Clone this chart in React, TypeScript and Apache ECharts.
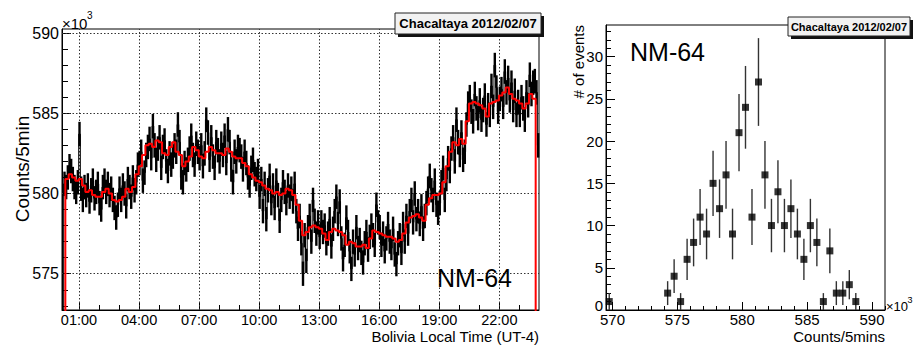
import React, { useEffect, useRef } from "react";
import * as echarts from "echarts";

const FONT = "'Liberation Sans', Arial, Helvetica, sans-serif";

// ---------- Left panel: 5-min counts (x10^3) ----------
const timeStartH = 0.15; // first bin start (hours, local time)
const binH = 1 / 12; // 5 minutes
const timeEndH = 23.983;

const counts00to06 = [
  569.8, 580.6, 580.4, 581.0, 581.7, 581.4, 580.9, 580.4, 580.1, 580.7,
  583.7, 580.3, 579.6, 580.4, 579.9, 580.5, 579.5, 580.2, 580.8, 579.7, 580.1, 580.6,
  579.4, 579.0, 580.4, 580.8, 580.1, 580.6, 579.9, 580.3, 579.6, 579.1, 578.5, 579.3,
  580.3, 579.6, 580.5, 580.0, 579.2, 580.9, 580.4, 579.8, 581.0, 580.2, 580.7, 581.8,
  581.9, 582.6, 580.8, 581.3, 582.4, 582.9, 583.4, 582.2, 584.2, 583.0, 582.1, 582.8,
  583.5, 581.6, 582.9, 583.3, 582.0, 581.4, 582.5, 581.8, 582.3, 583.0, 582.6, 584.3,
];
const counts06to12 = [
  583.2, 581.0, 580.7, 581.9, 581.5, 582.1, 582.8, 583.6, 582.4, 581.8, 583.1, 582.6,
  582.2, 583.0, 581.7, 582.5, 584.6, 583.8, 582.1, 583.5, 582.3, 581.6, 583.2, 582.7,
  582.0, 583.1, 582.4, 583.6, 581.9, 584.0, 583.2, 581.5, 580.7, 582.6, 582.0, 582.9,
  582.7, 582.3, 581.5, 582.6, 581.9, 581.0, 580.5, 581.6, 582.1, 581.2, 580.9, 581.4,
  579.8, 580.9, 578.9, 580.6, 578.4, 580.2, 581.1, 579.4, 580.5, 579.1, 580.8, 579.9,
  578.3, 579.6, 580.7, 580.1, 579.4, 580.5, 579.8, 580.3, 579.5, 580.6, 578.9, 577.8,
];
const counts12to18 = [
  578.6, 576.9, 575.0, 577.4, 575.8, 577.9, 578.6, 577.0, 579.6, 578.3, 577.5, 578.2,
  577.3, 578.2, 577.6, 578.0, 576.9, 577.5, 578.4, 576.7, 577.8, 578.9, 579.8, 578.1,
  579.5, 577.2, 575.9, 576.8, 578.5, 577.6, 576.4, 575.3, 577.0, 576.2, 577.9, 576.6,
  577.1, 576.3, 575.7, 576.9, 577.6, 576.5, 577.3, 578.0, 577.4, 576.8, 579.3, 578.2,
  577.9, 576.8, 577.5, 576.4, 577.2, 578.1, 577.0, 576.6, 577.8, 576.2, 575.6, 576.9,
  577.4, 576.3, 578.1, 577.0, 578.6, 577.5, 578.9, 579.6, 578.2, 580.0, 578.4, 578.9,
];
const counts18to24 = [
  578.1, 579.2, 577.8, 578.6, 579.4, 580.3, 581.1, 580.2, 579.6, 580.8, 579.3, 578.8,
  579.4, 580.7, 581.6, 579.6, 580.9, 582.2, 581.4, 582.8, 583.5, 582.0, 584.6, 583.2,
  582.4, 583.8, 582.1, 582.6, 584.3, 585.6, 586.0, 585.1, 584.5, 586.2, 585.3, 584.7,
  585.8, 584.6, 585.2, 586.1, 584.3, 585.5, 584.9, 586.7, 585.4, 588.0, 586.6, 585.1,
  585.9, 586.5, 585.4, 587.6, 586.3, 587.2, 585.8, 586.9, 585.2, 586.4, 584.9, 585.7,
  584.9, 586.0, 585.3, 584.6, 586.3, 585.5, 587.4, 586.2, 586.9, 587.0, 586.3, 583.0,
];

// Smoothed (red) curve, 10-min steps
const redBinH = 1 / 6;
const smooth00to06 = [
  570.0, 580.9, 581.2, 581.0, 580.8,
  580.9, 580.5, 580.1, 580.2, 579.9, 579.8,
  579.8, 580.1, 580.3, 580.0, 579.6, 579.5,
  579.6, 579.8, 580.3, 580.1, 580.4, 581.2,
  581.7, 582.4, 583.0, 583.1, 582.9, 583.3,
  583.2, 582.5, 582.4, 582.9, 583.2, 582.6,
];
const smooth06to12 = [
  582.4, 581.7, 582.0, 582.3, 582.9, 582.7,
  582.3, 582.2, 582.6, 582.9, 582.7, 582.5,
  582.5, 582.4, 582.8, 582.6, 582.3, 582.2,
  582.2, 581.9, 581.7, 581.2, 581.0, 580.8,
  580.7, 580.5, 580.3, 580.2, 580.0, 580.1,
  579.9, 580.0, 580.3, 580.2, 579.9, 579.3,
];
const smooth12to18 = [
  578.3, 577.4, 577.6, 577.9, 578.0, 577.9,
  577.8, 577.5, 577.1, 577.6, 577.8, 577.7,
  577.6, 577.4, 576.8, 577.0, 576.9, 576.7,
  576.7, 576.8, 576.6, 577.2, 577.7, 577.6,
  577.5, 577.4, 577.3, 577.3, 577.2, 577.0,
  577.1, 577.5, 578.2, 578.5, 578.6, 578.7,
];
const smooth18to24 = [
  578.5, 578.3, 579.3, 579.7, 579.9, 579.9,
  580.0, 580.7, 581.7, 582.6, 583.2, 583.0,
  583.4, 583.1, 584.5, 585.6, 585.7, 585.6,
  585.5, 585.3, 584.8, 585.6, 585.7, 585.8,
  586.1, 586.3, 586.6, 586.2, 585.9, 585.8,
  585.6, 585.3, 585.6, 586.2, 585.9, 570.0,
];

const hourLabels = [1, 4, 7, 10, 13, 16, 19, 22];
const hourTicks = [1, 2, 3, 4, 5, 6, 7, 8, 9, 10, 11, 12, 13, 14, 15, 16, 17, 18, 19, 20, 21, 22, 23];
const countLabels = [575, 580, 585, 590];
const countTicks = [573, 574, 575, 576, 577, 578, 579, 580, 581, 582, 583, 584, 585, 586, 587, 588, 589, 590];

// ---------- Right panel: distribution of 5-min counts ----------
const distCenters = [
  569.75, 574.25, 574.75, 575.25, 575.75, 576.25, 576.75, 577.25, 577.75, 578.25, 578.75,
  579.25, 579.75, 580.25, 580.75, 581.25, 581.75, 582.25, 582.75, 583.25, 583.75, 584.25,
  584.75, 585.25, 585.75, 586.25, 586.75, 587.25, 587.75, 588.25, 588.75,
];
const distEvents = [
  1, 2, 4, 1, 6, 8, 11, 9, 15, 12, 16,
  9, 21, 24, 11, 27, 16, 10, 14, 10, 12, 9,
  6, 10, 8, 1, 7, 2, 2, 3, 1,
];
const distXLabels = [570, 575, 580, 585, 590];
const distXTicks = [570, 571, 572, 573, 574, 575, 576, 577, 578, 579, 580, 581, 582, 583, 584, 585, 586, 587, 588, 589, 590, 591];
const distYLabels = [0, 5, 10, 15, 20, 25, 30];
const distYTicks = [0, 1, 2, 3, 4, 5, 6, 7, 8, 9, 10, 11, 12, 13, 14, 15, 16, 17, 18, 19, 20, 21, 22, 23, 24, 25, 26, 27, 28, 29, 30, 31, 32, 33];

function buildOption() {
  const counts = [...counts00to06, ...counts06to12, ...counts12to18, ...counts18to24];
  const smooth = [...smooth00to06, ...smooth06to12, ...smooth12to18, ...smooth18to24];

  const countStep: number[][] = counts.map((v, i) => [timeStartH + i * binH, v]);
  countStep.push([timeEndH, counts[counts.length - 1]]);
  const countErr = counts.map((v, i) => [timeStartH + (i + 0.5) * binH, v, Math.sqrt(v * 1000) / 1000]);

  const smoothStep: number[][] = smooth.map((v, i) => [timeStartH + i * redBinH, v]);
  smoothStep.push([timeEndH, smooth[smooth.length - 1]]);

  const distPts = distCenters.map((c, i) => [c, distEvents[i]]);
  const distErr = distCenters.map((c, i) => [c, distEvents[i], Math.sqrt(distEvents[i])]);

  const errRender = (width: number, color: string) => (params: any, api: any) => {
    const x = api.value(0);
    const y = api.value(1);
    const e = api.value(2);
    const p1 = api.coord([x, y - e]);
    const p2 = api.coord([x, y + e]);
    const cs = params.coordSys;
    const top = Math.max(cs.y, Math.min(p1[1], p2[1]));
    const bot = Math.min(cs.y + cs.height, Math.max(p1[1], p2[1]));
    if (bot <= top) return { type: "group", children: [] };
    return {
      type: "line",
      shape: { x1: p1[0], y1: top, x2: p1[0], y2: bot },
      style: { stroke: color, lineWidth: width },
    };
  };

  const labelStyle = (size: number) => ({ color: "#000", fontFamily: FONT, fontSize: size });
  const tickStyle = { color: "#000", width: 1 };
  const hh = (v: number) => (v < 10 ? "0" : "") + Math.round(v) + ":00";

  const shadowBox = (x: number, y: number, w: number, h: number) => [
    { type: "rect", shape: { x: x + 3, y: y + 3, width: w, height: h }, style: { fill: "#111" }, z: 100 },
    { type: "rect", shape: { x, y, width: w, height: h }, style: { fill: "#f2f2f2", stroke: "#222", lineWidth: 1 }, z: 101 },
  ];

  return {
    animation: false,
    backgroundColor: "#fff",
    grid: [
      { left: 62, top: 29, width: 477, height: 281, show: true, borderColor: "#000", borderWidth: 1, backgroundColor: "transparent" },
      { left: 606, top: 25, width: 279, height: 285, show: true, borderColor: "#000", borderWidth: 1, backgroundColor: "transparent" },
    ],
    xAxis: [
      {
        type: "value", gridIndex: 0, min: timeStartH, max: timeEndH, position: "bottom",
        axisLine: { show: true, onZero: false, lineStyle: tickStyle },
        axisTick: { show: true, inside: true, length: 8, customValues: hourLabels, lineStyle: tickStyle },
        axisLabel: { ...labelStyle(14.5), margin: 2, customValues: hourLabels, formatter: hh },
        splitLine: { show: false },
      },
      {
        type: "value", gridIndex: 0, min: timeStartH, max: timeEndH, position: "bottom", offset: 0,
        axisLine: { show: false, onZero: false },
        axisTick: { show: true, inside: true, length: 5, customValues: hourTicks, lineStyle: tickStyle },
        axisLabel: { show: false },
        splitLine: { show: false },
      },
      {
        type: "value", gridIndex: 1, min: 569.5, max: 591, position: "bottom",
        axisLine: { show: true, onZero: false, lineStyle: tickStyle },
        axisTick: { show: true, inside: true, length: 8, customValues: distXLabels, lineStyle: tickStyle },
        axisLabel: { ...labelStyle(15), margin: 2, customValues: distXLabels, formatter: (v: number) => String(Math.round(v)) },
        splitLine: { show: false },
      },
      {
        type: "value", gridIndex: 1, min: 569.5, max: 591, position: "bottom", offset: 0,
        axisLine: { show: false, onZero: false },
        axisTick: { show: true, inside: true, length: 4, customValues: distXTicks, lineStyle: tickStyle },
        axisLabel: { show: false },
        splitLine: { show: false },
      },
    ],
    yAxis: [
      {
        type: "value", gridIndex: 0, min: 572.74, max: 590.25, position: "left",
        axisLine: { show: true, onZero: false, lineStyle: tickStyle },
        axisTick: { show: true, inside: true, length: 9, customValues: countLabels, lineStyle: tickStyle },
        axisLabel: { ...labelStyle(16), margin: 3, customValues: countLabels, formatter: (v: number) => String(Math.round(v)) },
        splitLine: { show: false },
      },
      {
        type: "value", gridIndex: 0, min: 572.74, max: 590.25, position: "left", offset: 0,
        axisLine: { show: false, onZero: false },
        axisTick: { show: true, inside: true, length: 6, customValues: countTicks, lineStyle: tickStyle },
        axisLabel: { show: false },
        splitLine: { show: false },
      },
      {
        type: "value", gridIndex: 1, min: 0, max: 33.75, position: "left",
        axisLine: { show: true, onZero: false, lineStyle: tickStyle },
        axisTick: { show: true, inside: true, length: 9, customValues: distYLabels, lineStyle: tickStyle },
        axisLabel: {
          ...labelStyle(15), margin: 3, customValues: distYLabels,
          formatter: (v: number) => (Math.round(v) === 0 ? "{zero|0}" : String(Math.round(v))),
          rich: { zero: { fontFamily: FONT, fontSize: 15, color: "#000", padding: [0, 0, 9, 0] } },
        },
        splitLine: { show: false },
      },
      {
        type: "value", gridIndex: 1, min: 0, max: 33.75, position: "left", offset: 0,
        axisLine: { show: false, onZero: false },
        axisTick: { show: true, inside: true, length: 5, customValues: distYTicks, lineStyle: tickStyle },
        axisLabel: { show: false },
        splitLine: { show: false },
      },
    ],
    series: [
      {
        name: "counts", type: "line", xAxisIndex: 0, yAxisIndex: 0, data: countStep, step: "end",
        symbol: "none", clip: true, z: 3,
        lineStyle: { color: "#000", width: 1 },
        markLine: {
          silent: true, symbol: ["none", "none"], z: 1, animation: false,
          label: { show: false },
          lineStyle: { color: "#333", width: 1, type: [1.5, 2] },
          data: [...hourLabels.map((h) => ({ xAxis: h })), ...countLabels.map((c) => ({ yAxis: c }))],
        },
      },
      {
        name: "countErr", type: "custom", xAxisIndex: 0, yAxisIndex: 0, data: countErr, z: 3,
        renderItem: errRender(2.4, "#000"),
      },
      {
        name: "smooth", type: "line", xAxisIndex: 0, yAxisIndex: 0, data: smoothStep, step: "end",
        symbol: "none", clip: true, z: 5,
        lineStyle: { color: "#ff0000", width: 2 },
      },
      {
        name: "distErr", type: "custom", xAxisIndex: 2, yAxisIndex: 2, data: distErr, z: 3,
        renderItem: errRender(1.4, "#333"),
      },
      {
        name: "dist", type: "scatter", xAxisIndex: 2, yAxisIndex: 2, data: distPts, z: 4,
        symbol: "rect", symbolSize: 7, itemStyle: { color: "#000" },
      },
    ],
    graphic: [
      // left panel texts
      { type: "text", x: 62, y: 23, style: { text: "×10", fontFamily: FONT, fontSize: 15, fill: "#000", verticalAlign: "middle" } },
      { type: "text", x: 87, y: 15, style: { text: "3", fontFamily: FONT, fontSize: 10, fill: "#000", verticalAlign: "middle" } },
      { type: "text", x: 22, y: 169, rotation: Math.PI / 2, style: { text: "Counts/5min", fontFamily: FONT, fontSize: 19, fill: "#000", align: "center", verticalAlign: "middle" } },
      { type: "text", x: 539, y: 336.3, style: { text: "Bolivia Local Time (UT-4)", fontFamily: FONT, fontSize: 15, fill: "#000", align: "right", verticalAlign: "middle" } },
      { type: "text", x: 437, y: 278, z: 50, style: { text: "NM-64", fontFamily: FONT, fontSize: 25, fill: "#000", verticalAlign: "middle" } },
      ...shadowBox(395, 13, 146, 21),
      { type: "text", x: 468, y: 23.5, z: 102, style: { text: "Chacaltaya 2012/02/07", fontFamily: FONT, fontWeight: "bold", fontSize: 13, fill: "#000", align: "center", verticalAlign: "middle" } },
      // right panel texts
      { type: "text", x: 630, y: 52, z: 50, style: { text: "NM-64", fontFamily: FONT, fontSize: 25, fill: "#000", verticalAlign: "middle" } },
      { type: "text", x: 578, y: 25, rotation: Math.PI / 2, style: { text: "# of events", fontFamily: FONT, fontSize: 15, fill: "#000", align: "right", verticalAlign: "middle" } },
      { type: "text", x: 885, y: 336.3, style: { text: "Counts/5mins", fontFamily: FONT, fontSize: 15, fill: "#000", align: "right", verticalAlign: "middle" } },
      { type: "text", x: 886, y: 306, style: { text: "×10", fontFamily: FONT, fontSize: 13, fill: "#000", verticalAlign: "middle" } },
      { type: "text", x: 907.5, y: 300, style: { text: "3", fontFamily: FONT, fontSize: 9, fill: "#000", verticalAlign: "middle" } },
      ...shadowBox(788, 17, 122, 19),
      { type: "text", x: 849, y: 26.5, z: 102, style: { text: "Chacaltaya 2012/02/07", fontFamily: FONT, fontWeight: "bold", fontSize: 11, fill: "#000", align: "center", verticalAlign: "middle" } },
    ],
  };
}

export default function App() {
  const ref = useRef<HTMLDivElement>(null);
  useEffect(() => {
    if (!ref.current) return;
    const chart = echarts.init(ref.current, null, { renderer: "svg" });
    chart.setOption(buildOption() as any);
    return () => chart.dispose();
  }, []);
  return (
    <div
      ref={ref}
      style={{ position: "absolute", left: 0, top: 0, width: 914, height: 345, background: "#fff" }}
    />
  );
}
